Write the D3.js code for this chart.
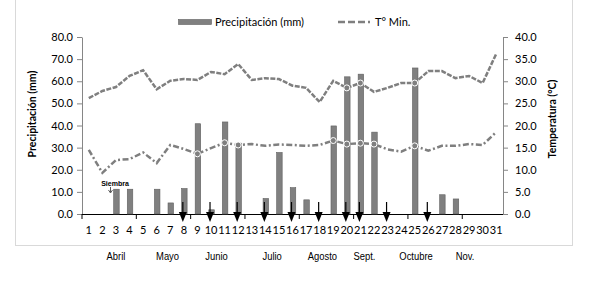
<!DOCTYPE html>
<html>
<head>
<meta charset="utf-8">
<script src="https://cdn.jsdelivr.net/npm/d3@7"></script>
<style>
  body { margin: 0; background: #fff; }
  svg text { font-family: Lato, "Open Sans", sans-serif; fill: #000; }
</style>
</head>
<body>
<div id="chart"></div>
<script>
// weekly periods 1..31
var weeks = d3.range(1, 32);
var precip = [0, 0, 11.2, 11.2, 0, 11.2, 5, 11.5, 40.8, 1.9, 41.6, 32, 0, 7, 27.8, 11.9,
              6.4, 0, 39.8, 62, 63.2, 37, 0, 0, 66, 0, 8.7, 6.8, 0, 0, 0];
var tMax = [26.2, 27.8, 28.7, 31.2, 32.5, 28.2, 30.1, 30.5, 30.3, 32.1, 31.6, 33.9, 30.3, 30.7, 30.5, 29.0,
            28.5, 25.3, 30.1, 28.5, 29.6, 27.6, 28.5, 29.6, 29.6, 32.3, 32.3, 30.7, 31.2, 29.6, 36.2];
var tMin = [14.5, 9.3, 12.2, 12.4, 13.9, 11.5, 15.6, 14.7, 13.6, 14.9, 16.1, 15.6, 15.8, 15.4, 15.7, 15.6,
            15.4, 15.6, 16.6, 15.8, 16.0, 15.8, 14.6, 14.1, 15.4, 14.3, 15.4, 15.4, 15.8, 15.6, 18.5];
var arrowWeeks = [8, 10, 12, 14, 16, 18, 20, 21, 23, 26];
var months = ["Abril", "Mayo", "Junio", "Julio", "Agosto", "Sept.", "Octubre", "Nov."];
var monthAt = [3, 6.8, 10.4, 14.5, 18.2, 21.3, 25.1, 28.7];   // week where each month label sits
var precipTicks = d3.range(0, 81, 10);
var tempTicks = d3.range(0, 41, 5);

var W = 589, H = 281;
var gray = "#7f7f7f";

var svg = d3.select("#chart").append("svg").attr("width", W).attr("height", H);

var x = d3.scaleBand().domain(weeks).range([82, 503]);
var xc = function(w) { return x(w) + x.bandwidth() / 2; };
var xLin = d3.scaleLinear().domain([0.5, 31.5]).range([82, 503]);
var yL = d3.scaleLinear().domain([0, 80]).range([214, 37]);
var yR = d3.scaleLinear().domain([0, 40]).range([214, 37]);

// outer frame
svg.append("rect").attr("x", 15.5).attr("y", -5).attr("width", 557).attr("height", 250.5)
  .attr("fill", "none").attr("stroke", "#d9d9d9");

// axes
var left = svg.append("g").attr("transform", "translate(82,0)")
  .call(d3.axisLeft(yL).tickValues(precipTicks).tickFormat(d3.format(".1f")).tickSize(5).tickSizeOuter(0));
var right = svg.append("g").attr("transform", "translate(503,0)")
  .call(d3.axisRight(yR).tickValues(tempTicks).tickFormat(d3.format(".1f")).tickSize(5).tickSizeOuter(0));
[left, right].forEach(function(a) {
  a.select(".domain").attr("stroke", "#868686");
  a.selectAll(".tick line").attr("stroke", "#868686");
  a.selectAll(".tick text").attr("font-size", 11).attr("font-family", "Lato");
});
left.selectAll(".tick text").attr("x", -9);
right.selectAll(".tick text").attr("x", 12);

// bottom axis: ticks every 4 weeks, labels per week
var bottom = svg.append("g");
bottom.append("line").attr("x1", 82).attr("x2", 503).attr("y1", 214.5).attr("y2", 214.5)
  .attr("stroke", "#000");
bottom.selectAll(".bt").data(d3.range(0.5, 31.5, 4)).join("line")
  .attr("x1", function(d) { return xLin(d); }).attr("x2", function(d) { return xLin(d); })
  .attr("y1", 214).attr("y2", 219).attr("stroke", "#000");
bottom.selectAll(".lbl").data(weeks).join("text")
  .attr("x", xc).attr("y", 234).attr("text-anchor", "middle")
  .attr("font-size", 11).text(function(d) { return d; });

// month names
svg.selectAll(".month").data(months).join("text")
  .attr("transform", function(d, i) { return "translate(" + xLin(monthAt[i]) + ",260) scale(0.82,1)"; })
  .attr("text-anchor", "middle").attr("font-size", 11.5)
  .style("font-family", "'Liberation Sans', Arial, sans-serif")
  .text(function(d) { return d; });

// bars
var bw = 5.5;
svg.selectAll(".bar").data(weeks.filter(function(w) { return precip[w - 1] > 0; })).join("rect")
  .attr("x", function(w) { return xc(w) - bw / 2 + 0.5; })
  .attr("y", function(w) { return yL(precip[w - 1]); })
  .attr("width", bw)
  .attr("height", function(w) { return yL(0) - yL(precip[w - 1]); })
  .attr("fill", "#808080").attr("stroke", "#5f5f5f").attr("stroke-width", 0.6);

// temperature lines
var line = d3.line().x(function(d, i) { return xc(weeks[i]); }).y(function(d) { return yR(d); });
svg.append("path").datum(tMax).attr("d", line).attr("fill", "none")
  .attr("stroke", gray).attr("stroke-width", 2.5).attr("stroke-dasharray", "5,1.5");
svg.append("path").datum(tMin).attr("d", line).attr("fill", "none")
  .attr("stroke", gray).attr("stroke-width", 2.5).attr("stroke-dasharray", "6,2.5,2,2.5");

// markers only show where they sit over a bar
[tMax, tMin].forEach(function(series) {
  svg.selectAll(null).data(weeks.filter(function(w) {
      return precip[w - 1] > 0 && yL(precip[w - 1]) <= yR(series[w - 1]) + 2;
    })).join("circle")
    .attr("cx", xc).attr("cy", function(w) { return yR(series[w - 1]); })
    .attr("r", 3).attr("fill", gray).attr("stroke", "#fff").attr("stroke-width", 1);
});

// application arrows
var arrows = svg.append("g");
arrowWeeks.forEach(function(w) {
  var ax = xc(w) - 1;
  arrows.append("line").attr("x1", ax).attr("x2", ax).attr("y1", 202).attr("y2", 213)
    .attr("stroke", "#000").attr("stroke-width", 1.2);
  arrows.append("path")
    .attr("d", "M" + (ax - 4) + ",212 L" + (ax + 4) + ",212 L" + ax + ",222 Z")
    .attr("fill", "#000");
});

// Siembra
svg.append("text").attr("x", 115).attr("y", 186).attr("text-anchor", "middle")
  .attr("font-size", 7).attr("font-weight", "bold")
  .style("font-family", "'Liberation Sans', Arial, sans-serif").text("Siembra");
svg.append("path").attr("d", "M110.5,187 L110.5,192 M108.5,190 L110.5,193 L112.5,190")
  .attr("fill", "none").attr("stroke", "#333").attr("stroke-width", 0.8);

// axis titles
svg.append("text").attr("transform", "translate(36,114) rotate(-90)")
  .attr("text-anchor", "middle").attr("font-size", 10.5).attr("font-weight", "bold")
  .text("Precipitación (mm)");
svg.append("text").attr("transform", "translate(556,119) rotate(-90)")
  .attr("text-anchor", "middle").attr("font-size", 10.5).attr("font-weight", "bold")
  .text("Temperatura (°C)");

// legend
var lg = svg.append("g");
lg.append("rect").attr("x", 178.5).attr("y", 19.5).attr("width", 33).attr("height", 5)
  .attr("fill", "#808080").attr("stroke", "#5f5f5f").attr("stroke-width", 0.6);
lg.append("text").attr("x", 215).attr("y", 26).attr("font-size", 11).text("Precipitación (mm)");
lg.append("line").attr("x1", 338).attr("x2", 370).attr("y1", 22).attr("y2", 22)
  .attr("stroke", gray).attr("stroke-width", 2.5).attr("stroke-dasharray", "7,3");
lg.append("text").attr("x", 375).attr("y", 26).attr("font-size", 11).text("T° Min.");
</script>
</body>
</html>
